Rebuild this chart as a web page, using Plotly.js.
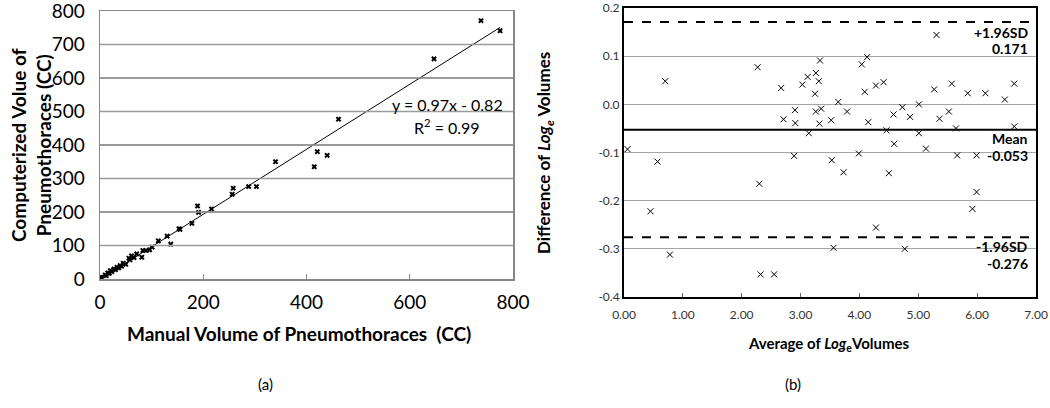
<!DOCTYPE html>
<html>
<head>
<meta charset="utf-8">
<script src="https://cdn.plot.ly/plotly-3.0.1.min.js"></script>
<style>
  html, body { margin: 0; padding: 0; background: #fff; }
  #chart { width: 1050px; height: 408px; }
</style>
</head>
<body>
<div id="chart"></div>
<script>
// (a) manual vs computerized volume (CC)
const manualVolume = [
  1, 3, 10, 12, 15, 18, 20, 23, 27, 30, 33, 36, 39, 42, 45, 50, 56, 58, 61, 66,
  71, 81, 83, 89, 96, 101, 113, 130, 137, 153, 155, 178, 189, 191, 216, 256, 258,
  288, 303, 340, 415, 421, 440, 462, 647, 738, 775,
];
const computedVolume = [
  5, 4, 12, 10, 18, 17, 25, 22, 30, 28, 35, 33, 40, 38, 47, 44, 62, 57, 69, 64,
  75, 65, 85, 85, 87, 95, 114, 128, 104, 150, 148, 166, 218, 199, 209, 253, 271,
  276, 276, 350, 335, 380, 369, 477, 657, 771, 741,
];
const fitSlope = 0.97;
const fitIntercept = -0.82;

// (b) Bland-Altman: average vs difference of Log_e volumes
const avgLog = [
  0.06, 0.45, 0.57, 0.70, 0.78, 2.27, 2.30, 2.32, 2.55, 2.67, 2.71, 2.89, 2.905,
  2.91, 3.03, 3.12, 3.14, 3.245, 3.26, 3.26, 3.31, 3.32, 3.33, 3.35, 3.52, 3.53,
  3.56, 3.64, 3.73, 3.79, 3.99, 4.04, 4.09, 4.13, 4.15, 4.28, 4.28, 4.41, 4.46,
  4.50, 4.58, 4.59, 4.73, 4.77, 4.86, 5.01, 5.01, 5.13, 5.27, 5.31, 5.36, 5.52,
  5.57, 5.64, 5.66, 5.84, 5.92, 5.99, 5.99, 6.14, 6.47, 6.63, 6.63,
];
const diffLog = [
  -0.093, -0.222, -0.119, 0.048, -0.312, 0.077, -0.165, -0.353, -0.353, 0.034,
  -0.031, -0.107, -0.012, -0.039, 0.041, 0.057, -0.060, 0.022, 0.065, -0.015,
  0.048, -0.040, 0.091, -0.009, -0.033, -0.116, -0.298, 0.005, -0.141, -0.015,
  -0.102, 0.083, 0.026, 0.098, -0.037, 0.039, -0.256, 0.046, -0.054, -0.143,
  -0.021, -0.082, -0.006, -0.300, -0.026, 0.000, -0.060, -0.092, 0.031, 0.144,
  -0.030, -0.015, 0.043, -0.050, -0.106, 0.023, -0.217, -0.106, -0.182, 0.023,
  0.010, 0.043, -0.046,
];
const upperLimit = 0.171;
const meanDiff = -0.053;
const lowerLimit = -0.276;

const leftXTicks = [0, 200, 400, 600, 800];
const leftYTicks = [0, 100, 200, 300, 400, 500, 600, 700, 800];
const rightXTicks = [0, 1, 2, 3, 4, 5, 6, 7];
const rightXTickText = ['0.00', '1.00', '2.00', '3.00', '4.00', '5.00', '6.00', '7.00'];
const rightYTicks = [0.2, 0.1, 0, -0.1, -0.2, -0.3, -0.4];
const rightYTickText = ['0.2', '0.1', '0.0', '-0.1', '-0.2', '-0.3', '-0.4'];

const font = 'Lato, "Liberation Sans", sans-serif';
const fitX = [Math.min(...manualVolume), Math.max(...manualVolume)];
const fitY = fitX.map((x) => fitSlope * x + fitIntercept);
const xMin = leftXTicks[0];
const xMax = leftXTicks[leftXTicks.length - 1];

const traces = [
  {
    x: fitX, y: fitY, xaxis: 'x', yaxis: 'y',
    type: 'scatter', mode: 'lines',
    line: { color: '#000', width: 1 },
    hoverinfo: 'skip',
  },
  {
    x: manualVolume, y: computedVolume, xaxis: 'x', yaxis: 'y',
    type: 'scatter', mode: 'markers',
    marker: { symbol: 'x', size: 5, color: '#000' },
  },
  {
    x: avgLog, y: diffLog, xaxis: 'x2', yaxis: 'y2',
    type: 'scatter', mode: 'markers',
    marker: { symbol: 'x-thin-open', size: 6, color: '#000', line: { width: 1, color: '#000' } },
  },
];

function refLine(y, dash, width) {
  return {
    type: 'line', xref: 'x2', yref: 'y2',
    x0: 0, x1: 7, y0: y, y1: y,
    line: { color: '#000', dash, width },
  };
}

// horizontal grid of panel (a), one shape per inner tick
const leftGrid = leftYTicks.slice(1, -1).map((y) => ({
  type: 'line', xref: 'x', yref: 'y',
  x0: xMin, x1: xMax, y0: y, y1: y,
  line: { color: '#9a9a9a', width: 1.5 },
}));

function sideLabel(text, y, yshift) {
  return {
    text, x: 1030 / 1050, y, xref: 'paper', yref: 'y2',
    xanchor: 'right', yanchor: 'middle', yshift,
    showarrow: false,
    font: { family: font, size: 14, color: '#000', weight: 'bold' },
  };
}

const layout = {
  width: 1050,
  height: 408,
  margin: { l: 0, r: 0, t: 0, b: 0, pad: 0 },
  paper_bgcolor: '#fff',
  plot_bgcolor: '#fff',
  showlegend: false,
  font: { family: font, color: '#000' },
  xaxis: {
    domain: [100 / 1050, 513 / 1050],
    range: [xMin, xMax],
    tickvals: leftXTicks,
    ticks: 'inside', ticklen: 5, tickcolor: '#888',
    ticklabelstandoff: 6,
    showgrid: false, zeroline: false,
    showline: true, mirror: true, linecolor: '#888', linewidth: 1.5,
    tickfont: { family: font, size: 19, color: '#000' },
    ticklabeloverflow: 'allow',
    anchor: 'y',
  },
  yaxis: {
    domain: [(408 - 279) / 408, (408 - 11) / 408],
    range: [0, 800],
    tickvals: leftYTicks,
    ticks: '',
    ticklabelstandoff: 10,
    showgrid: true, gridcolor: '#9a9a9a', gridwidth: 1.5,
    zeroline: false,
    showline: true, mirror: true, linecolor: '#888', linewidth: 1.5,
    tickfont: { family: font, size: 19, color: '#000' },
    ticklabeloverflow: 'allow',
    anchor: 'x',
  },
  xaxis2: {
    domain: [624 / 1050, 1036 / 1050],
    range: [0, 7],
    tickvals: rightXTicks, ticktext: rightXTickText,
    ticks: 'inside', ticklen: 4, tickcolor: '#666',
    ticklabelstandoff: 6,
    showgrid: false, zeroline: false,
    showline: true, mirror: true, linecolor: '#000', linewidth: 2,
    tickfont: { family: font, size: 12, color: '#333' },
    ticklabeloverflow: 'allow',
    anchor: 'y2',
  },
  yaxis2: {
    domain: [(408 - 297) / 408, (408 - 8) / 408],
    range: [-0.4, 0.2],
    tickvals: rightYTicks, ticktext: rightYTickText,
    ticks: '',
    showgrid: true, gridcolor: '#a6a6a6', gridwidth: 1.2,
    zeroline: false,
    showline: true, mirror: true, linecolor: '#000', linewidth: 2,
    tickfont: { family: font, size: 12, color: '#333' },
    ticklabeloverflow: 'allow',
    anchor: 'x2',
  },
  shapes: leftGrid.concat([
    refLine(upperLimit, 'dash', 2),
    refLine(meanDiff, 'solid', 2),
    refLine(lowerLimit, 'dash', 2),
  ]),
  annotations: [
    {
      text: 'Computerized Volue of<br>Pneumothoraces (CC)',
      x: 31, y: 145, textangle: -90,
      font: { family: font, size: 19, color: '#000', weight: 'bold' },
    },
    {
      text: 'Manual Volume of Pneumothoraces  (CC)',
      x: 299, y: 333,
      font: { family: font, size: 19, color: '#000', weight: 'bold' },
    },
    {
      text: 'y = 0.97x - 0.82',
      x: 447, y: 105,
      font: { family: font, size: 16, color: '#000' },
    },
    {
      text: 'R<sup>2</sup> = 0.99',
      x: 447, y: 126,
      font: { family: font, size: 16, color: '#000' },
    },
    {
      text: '(a)',
      x: 265, y: 384,
      font: { family: font, size: 15, color: '#000' },
    },
    {
      text: 'Difference of <i>Log<sub>e</sub></i> Volumes',
      x: 545, y: 153, textangle: -90,
      font: { family: font, size: 17, color: '#000', weight: 'bold' },
    },
    {
      text: 'Average of <i>Log</i><sub>e</sub>Volumes',
      x: 829, y: 344,
      font: { family: font, size: 15, color: '#000', weight: 'bold' },
    },
    {
      text: '(b)',
      x: 793, y: 384,
      font: { family: font, size: 15, color: '#000' },
    },
  ],
};

// pixel-positioned annotations -> paper coords, centred
layout.annotations.forEach((a) => {
  a.xref = 'paper';
  a.yref = 'paper';
  a.x = a.x / 1050;
  a.y = 1 - a.y / 408;
  a.xanchor = 'center';
  a.yanchor = 'middle';
  a.showarrow = false;
});

layout.annotations.push(
  sideLabel('+1.96SD', upperLimit, -11),
  sideLabel(upperLimit.toFixed(3), upperLimit, -27),
  sideLabel('Mean', meanDiff, -9),
  sideLabel(meanDiff.toFixed(3), meanDiff, -26),
  sideLabel('-1.96SD', lowerLimit, -9),
  sideLabel(lowerLimit.toFixed(3), lowerLimit, -26),
);

Plotly.newPlot('chart', traces, layout, { displayModeBar: false, staticPlot: true });
</script>
</body>
</html>
